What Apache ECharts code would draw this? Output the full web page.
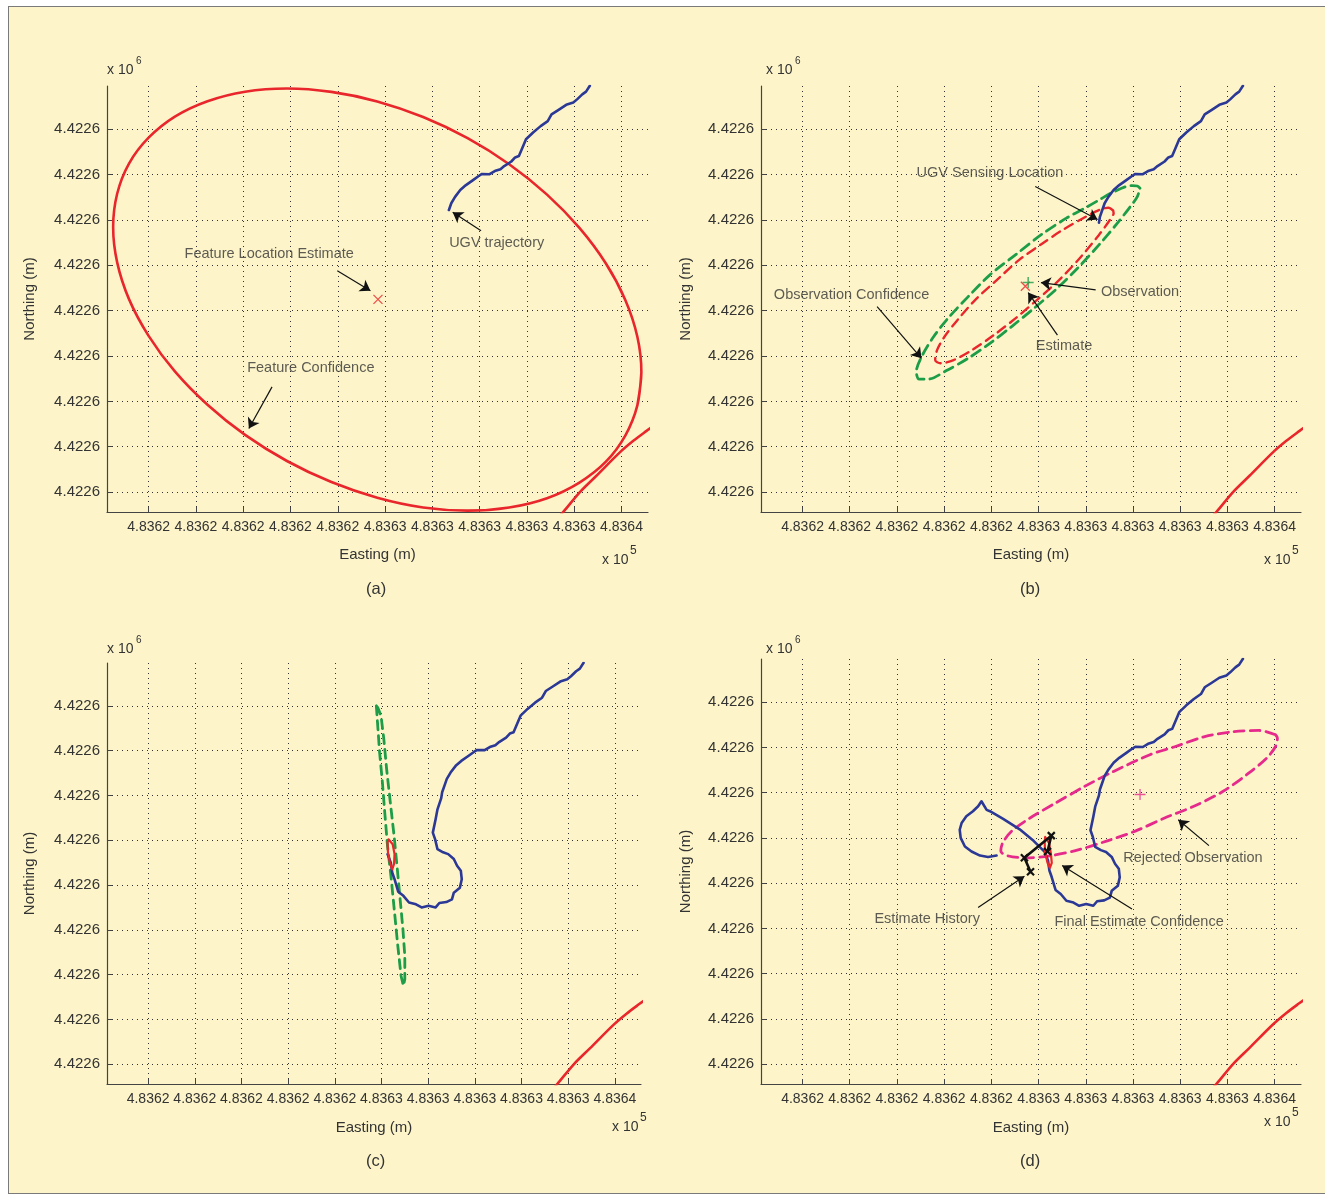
<!DOCTYPE html>
<html><head><meta charset="utf-8">
<script src="https://cdn.jsdelivr.net/npm/echarts@6/dist/echarts.min.js"></script>
<style>
html,body{margin:0;padding:0;background:#ffffff;}
#frame{position:absolute;left:8px;top:6px;width:1320px;height:1188px;background:#fdf5c9;border:1px solid #7a7a7a;box-sizing:border-box;}
#c{position:absolute;left:0;top:0;width:1325px;height:1198px;}
</style>
</head><body>
<div id="frame"></div>
<div id="c"></div>
<script>
// ---------- axes (metres; labels shown in MATLAB x10^5 / x10^6 style) ----------
const xTicks = [483616, 483618, 483620, 483622, 483624, 483626, 483628, 483630, 483632, 483634, 483636];
const yTicks = [4422590, 4422592, 4422594, 4422596, 4422598, 4422600, 4422602, 4422604, 4422606];
const xRange = [483614.24, 483637.12];
const yRange = [4422589.12, 4422607.91];

// ---------- UGV trajectory (Easting, Northing) ----------
const trajectory = [
 [483634.66,4422607.92],[483634.50,4422607.66],[483634.34,4422607.54],[483634.12,4422607.32],[483633.96,4422607.18],
 [483633.66,4422607.08],[483633.34,4422606.86],[483633.04,4422606.66],[483632.88,4422606.36],[483632.58,4422606.14],
 [483632.26,4422605.86],[483631.96,4422605.56],[483631.80,4422605.16],[483631.66,4422604.82],[483631.50,4422604.76],
 [483631.34,4422604.58],[483631.04,4422604.38],[483630.88,4422604.24],[483630.64,4422604.16],[483630.42,4422604.02],
 [483630.10,4422604.03],[483629.96,4422603.94],[483629.72,4422603.76],[483629.42,4422603.54],[483629.18,4422603.32],
 [483628.96,4422603.02],[483628.80,4422602.74],[483628.70,4422602.44],[483628.60,4422602.14],[483628.56,4422601.88],
 [483628.40,4422601.38],[483628.32,4422600.94],[483628.20,4422600.34],[483628.30,4422600.04],[483628.40,4422599.60],
 [483628.64,4422599.46],[483628.86,4422599.38],[483629.10,4422599.16],[483629.24,4422598.86],[483629.40,4422598.64],
 [483629.44,4422598.26],[483629.36,4422597.88],[483629.10,4422597.66],[483629.02,4422597.36],[483628.78,4422597.24],
 [483628.48,4422597.20],[483628.32,4422597.00],[483628.02,4422597.08],[483627.72,4422597.00],[483627.48,4422597.14],
 [483627.18,4422597.22],[483626.94,4422597.52],[483626.72,4422597.70],[483626.56,4422598.26],[483626.46,4422598.56],
 [483626.40,4422599.00],[483626.26,4422599.38],[483625.80,4422599.86],[483625.20,4422600.38],[483624.50,4422600.84],
 [483623.94,4422601.18],[483623.80,4422601.24],[483623.58,4422601.62],[483623.44,4422601.40],[483623.22,4422601.18],
 [483622.94,4422600.96],[483622.74,4422600.66],[483622.66,4422600.36],[483622.70,4422600.00],[483622.88,4422599.62],
 [483623.16,4422599.40],[483623.52,4422599.22],[483623.86,4422599.16],[483624.22,4422599.22]
];
const trajectoryShown = {a: 28, b: 30, c: 57, d: 74};

// ---------- panel (a) ----------
const featureConfidenceA = [
 [483636.84,4422595.28],[483636.67,4422593.82],[483636.16,4422592.49],[483635.34,4422591.34],[483634.22,4422590.42],
 [483632.85,4422589.73],[483631.25,4422589.32],[483629.49,4422589.18],[483627.61,4422589.32],[483625.67,4422589.75],
 [483623.73,4422590.44],[483621.85,4422591.37],[483620.08,4422592.52],[483618.49,4422593.85],[483617.11,4422595.32],
 [483616.00,4422596.89],[483615.17,4422598.51],[483614.67,4422600.13],[483614.50,4422601.69],[483614.67,4422603.16],
 [483615.17,4422604.49],[483616.00,4422605.63],[483617.11,4422606.56],[483618.49,4422607.24],[483620.08,4422607.66],
 [483621.85,4422607.80],[483623.73,4422607.65],[483625.67,4422607.23],[483627.61,4422606.54],[483629.49,4422605.61],
 [483631.25,4422604.46],[483632.85,4422603.12],[483634.22,4422601.65],[483635.34,4422600.08],[483636.16,4422598.47],
 [483636.67,4422596.85],[483636.84,4422595.28],[483636.67,4422593.82]
];
const otherFeatureArc = [
 [483633.40,4422588.96],[483633.60,4422589.20],[483634.24,4422590.00],[483634.94,4422590.72],[483635.94,4422591.76],
 [483636.50,4422592.26],[483637.06,4422592.70],[483637.30,4422592.88]
];
const featureEstimateA = [[483625.70,4422598.50]];
const annotationsA = [
 {text:'Feature Location Estimate', at:[483621.10,4422600.52], from:[483623.98,4422599.76], to:[483625.38,4422598.88]},
 {text:'UGV trajectory', at:[483630.72,4422600.98], from:[483630.06,4422601.52], to:[483628.86,4422602.34]},
 {text:'Feature Confidence', at:[483622.86,4422595.48], from:[483621.22,4422594.64], to:[483620.24,4422592.80]}
];

// ---------- panel (b) ----------
const observationConfidenceB = [
 [483630.30,4422603.40],[483630.18,4422603.50],[483629.96,4422603.52],[483629.18,4422603.24],[483628.56,4422602.88],
 [483627.96,4422602.52],[483627.18,4422602.08],[483626.10,4422601.34],[483625.02,4422600.46],[483623.94,4422599.58],
 [483623.02,4422598.62],[483622.16,4422597.66],[483621.56,4422596.86],[483621.08,4422596.04],[483620.82,4422595.30],
 [483620.94,4422594.98],[483621.32,4422594.98],[483622.10,4422595.36],[483623.02,4422595.90],[483623.94,4422596.56],
 [483624.86,4422597.30],[483625.80,4422598.10],[483626.72,4422598.92],[483627.64,4422599.86],[483628.56,4422600.90],
 [483629.34,4422601.86],[483629.88,4422602.58],[483630.18,4422603.02],[483630.30,4422603.40]
];
const estimateConfidenceB = [
 [483629.16,4422602.42],[483628.96,4422602.54],[483628.56,4422602.44],[483627.96,4422602.12],[483627.02,4422601.56],
 [483626.10,4422600.92],[483625.18,4422600.24],[483624.24,4422599.36],[483623.32,4422598.48],[483622.56,4422597.58],
 [483622.02,4422596.86],[483621.70,4422596.26],[483621.62,4422595.82],[483621.86,4422595.68],[483622.40,4422595.82],
 [483623.18,4422596.26],[483624.10,4422596.92],[483625.02,4422597.66],[483625.94,4422598.48],[483626.88,4422599.36],
 [483627.80,4422600.38],[483628.56,4422601.34],[483629.02,4422602.00],[483629.18,4422602.30],[483629.16,4422602.42]
];
const estimateB = [[483625.44,4422599.08]];
const observationB = [[483625.56,4422599.24]];
const annotationsB = [
 {text:'UGV Sensing Location', at:[483623.94,4422604.06], from:[483625.86,4422603.48], to:[483628.50,4422602.02]},
 {text:'Observation', at:[483630.30,4422598.84], from:[483628.42,4422598.92], to:[483626.10,4422599.24]},
 {text:'Estimate', at:[483627.08,4422596.42], from:[483626.80,4422596.92], to:[483625.56,4422598.80]},
 {text:'Observation Confidence', at:[483618.08,4422598.70], from:[483619.16,4422598.18], to:[483621.04,4422595.90]}
];

// ---------- panel (c) ----------
const observationConfidenceC = [
 [483625.78,4422606.00],[483625.84,4422605.10],[483625.92,4422603.92],[483626.04,4422602.58],[483626.14,4422601.24],
 [483626.26,4422599.74],[483626.42,4422598.26],[483626.56,4422596.78],[483626.70,4422595.28],[483626.84,4422593.94],
 [483626.94,4422593.50],[483627.00,4422593.80],[483627.00,4422594.84],[483626.92,4422596.02],[483626.80,4422597.36],
 [483626.68,4422598.70],[483626.54,4422600.20],[483626.38,4422601.68],[483626.22,4422603.18],[483626.10,4422604.52],
 [483625.98,4422605.56],[483625.84,4422605.92],[483625.78,4422606.00]
];
const estimateConfidenceC = [
 [483626.30,4422600.04],[483626.48,4422599.82],[483626.56,4422599.38],[483626.54,4422598.94],[483626.46,4422598.70],
 [483626.36,4422599.00],[483626.28,4422599.46],[483626.26,4422599.90],[483626.30,4422600.04]
];

// ---------- panel (d) ----------
const rejectedConfidenceD = [
 [483636.04,4422604.56],[483635.34,4422604.75],[483634.28,4422604.70],[483633.04,4422604.48],[483631.80,4422604.04],
 [483630.72,4422603.68],[483629.18,4422602.94],[483627.96,4422602.28],[483626.72,4422601.54],[483625.64,4422600.88],
 [483624.86,4422600.30],[483624.48,4422599.78],[483624.40,4422599.42],[483624.72,4422599.20],[483625.48,4422599.12],
 [483626.56,4422599.22],[483627.64,4422599.46],[483628.88,4422599.86],[483630.10,4422600.30],[483631.34,4422600.88],
 [483632.58,4422601.40],[483633.82,4422602.06],[483634.90,4422602.86],[483635.66,4422603.52],[483636.04,4422604.04],
 [483636.12,4422604.42],[483636.04,4422604.56]
];
const rejectedObservationD = [[483630.30,4422601.92]];
const finalConfidenceD = [
 [483626.28,4422600.04],[483626.44,4422599.78],[483626.52,4422599.34],[483626.56,4422598.90],[483626.48,4422598.68],
 [483626.38,4422598.90],[483626.28,4422599.34],[483626.26,4422599.78],[483626.28,4422600.04]
];
const estimateHistoryD = [
 [483625.66,4422598.50],[483625.40,4422599.12],[483626.54,4422600.10],[483626.38,4422599.40]
];
const annotationsD = [
 {text:'Estimate History', at:[483621.28,4422596.40], from:[483623.44,4422596.92], to:[483625.40,4422598.30]},
 {text:'Final Estimate Confidence', at:[483630.26,4422596.28], from:[483629.96,4422596.86], to:[483627.00,4422598.78]},
 {text:'Rejected Observation', at:[483632.54,4422599.12], from:[483633.22,4422599.66], to:[483631.92,4422600.80]}
];

// ---------- styling / layout ----------
const FONT = '"Liberation Sans", Arial, Helvetica, sans-serif';
const TXT = '#333333';
const C_BLUE = '#2b3896', C_RED = '#e8262c', C_GREEN = '#1e9d48', C_MAG = '#e62a8c';
const panels = [
 {id:'(a)', grid:{left:107, top:86, width:541, height:426}, xGap:35, yGap:70, tag:[377,591], m6:[107,71.5], m5:[602,560.7]},
 {id:'(b)', grid:{left:761, top:86, width:540, height:426}, xGap:35, yGap:68, tag:[1031,591], m6:[766,71.5], m5:[1264,560.7]},
 {id:'(c)', grid:{left:107, top:663, width:534, height:421}, xGap:36, yGap:70, tag:[377,1163], m6:[107,650], m5:[612,1128]},
 {id:'(d)', grid:{left:761, top:659, width:540, height:425}, xGap:36, yGap:68, tag:[1031,1163], m6:[766,650], m5:[1264,1123]}
];

const fmtX = v => (v/1e5).toFixed(4);
const fmtY = v => (v/1e6).toFixed(4);

function xAxisFor(i, p) {
  return {
    gridIndex:i, type:'value', min:xRange[0], max:xRange[1],
    name:'Easting (m)', nameLocation:'middle', nameGap:p.xGap,
    nameTextStyle:{fontFamily:FONT, fontSize:15, color:TXT},
    axisLine:{show:true, onZero:false, lineStyle:{color:'#444', width:1.2}},
    axisTick:{show:true, inside:true, length:5, customValues:xTicks, lineStyle:{color:'#444', width:1}},
    axisLabel:{customValues:xTicks, formatter:fmtX, fontFamily:FONT, fontSize:14, color:TXT, margin:8},
    splitLine:{show:true, lineStyle:{color:'#333', width:1, type:[1,4]}}
  };
}
function yAxisFor(i, p) {
  return {
    gridIndex:i, type:'value', min:yRange[0], max:yRange[1],
    name:'Northing (m)', nameLocation:'middle', nameGap:p.yGap, nameRotate:90,
    nameTextStyle:{fontFamily:FONT, fontSize:15, color:TXT},
    axisLine:{show:true, onZero:false, lineStyle:{color:'#444', width:1.2}},
    axisTick:{show:true, inside:true, length:5, customValues:yTicks, lineStyle:{color:'#444', width:1}},
    axisLabel:{customValues:yTicks, formatter:fmtY, fontFamily:FONT, fontSize:15, color:TXT, margin:7},
    splitLine:{show:true, lineStyle:{color:'#333', width:1, type:[1,4]}}
  };
}
function lineS(i, data, color, width, type, smooth, z) {
  return {type:'line', xAxisIndex:i, yAxisIndex:i, data:data, showSymbol:false, symbol:'none',
    smooth:smooth ? 0.3 : false, lineStyle:{color:color, width:width, type:type || 'solid', cap:'round', join:'round'},
    z:z || 3, silent:true, animation:false, clip:true};
}
const X_PATH = 'path://M0,0L10,10M10,0L0,10';
const PLUS_PATH = 'path://M5,0L5,10M0,5L10,5';
function markS(i, data, path, color, size, bw) {
  return {type:'scatter', xAxisIndex:i, yAxisIndex:i, data:data, symbol:path, symbolSize:size,
    itemStyle:{color:'rgba(0,0,0,0)', borderColor:color, borderWidth:bw}, z:6, silent:true, animation:false};
}
function annoS(i, annos) {
  return {type:'scatter', xAxisIndex:i, yAxisIndex:i, symbolSize:1, itemStyle:{color:'rgba(0,0,0,0)'},
    data: annos.map(a => ({name:a.text, value:a.at})),
    label:{show:true, position:'inside', formatter:'{b}', color:TXT, fontSize:14.5, fontFamily:FONT},
    markLine:{silent:true, animation:false, symbol:['none','arrow'], symbolSize:10, label:{show:false},
      itemStyle:{color:'#111'},
      lineStyle:{color:'#111', width:1.2, type:'solid'},
      data: annos.map(a => [{coord:a.from}, {coord:a.to}])},
    z:7, silent:true, animation:false};
}

const series = [];
// (a)
series.push(lineS(0, featureConfidenceA, C_RED, 2.6, 'solid', true));
series.push(lineS(0, otherFeatureArc, C_RED, 2.6, 'solid', true));
series.push(lineS(0, trajectory.slice(0, trajectoryShown.a), C_BLUE, 2.6, 'solid', false, 4));
series.push(markS(0, featureEstimateA, X_PATH, C_RED, 9, 1.3));
series.push(annoS(0, annotationsA));
// (b)
series.push(lineS(1, otherFeatureArc, C_RED, 2.6, 'solid', true));
series.push(lineS(1, trajectory.slice(0, trajectoryShown.b), C_BLUE, 2.6, 'solid', false, 4));
series.push(lineS(1, observationConfidenceB, C_GREEN, 2.8, [10,6], true));
series.push(lineS(1, estimateConfidenceB, C_RED, 2.4, [9,6], true));
series.push(markS(1, estimateB, X_PATH, C_RED, 9, 1.3));
series.push(markS(1, observationB, PLUS_PATH, C_GREEN, 11, 1.5));
series.push(annoS(1, annotationsB));
// (c)
series.push(lineS(2, otherFeatureArc, C_RED, 2.6, 'solid', true));
series.push(lineS(2, trajectory.slice(0, trajectoryShown.c), C_BLUE, 2.6, 'solid', false, 4));
series.push(lineS(2, observationConfidenceC, C_GREEN, 2.8, [9,6], false));
series.push(lineS(2, estimateConfidenceC, C_RED, 2.2, 'solid', false, 5));
// (d)
series.push(lineS(3, otherFeatureArc, C_RED, 2.6, 'solid', true));
series.push(lineS(3, trajectory.slice(0, trajectoryShown.d), C_BLUE, 2.6, 'solid', false, 4));
series.push(lineS(3, rejectedConfidenceD, C_MAG, 2.8, [10,6], true));
series.push(markS(3, rejectedObservationD, PLUS_PATH, C_MAG, 11, 1.3));
series.push(lineS(3, finalConfidenceD, C_RED, 2.2, 'solid', false, 5));
series.push(Object.assign(lineS(3, estimateHistoryD, '#111', 2.6, 'solid', false, 6), {
  showSymbol:true, symbol:X_PATH, symbolSize:7, itemStyle:{color:'rgba(0,0,0,0)', borderColor:'#111', borderWidth:2.2}}));
series.push(annoS(3, annotationsD));

const graphic = [];
panels.forEach(p => {
  graphic.push({type:'text', left:p.tag[0]-11, top:p.tag[1]-10, silent:true,
    style:{text:p.id, font:'16.5px ' + FONT, fill:TXT}});
  graphic.push({type:'text', left:p.m6[0], top:p.m6[1]-8, silent:true, style:{text:'x 10', font:'14px ' + FONT, fill:TXT}});
  graphic.push({type:'text', left:p.m6[0]+29, top:p.m6[1]-15, silent:true, style:{text:'6', font:'10px ' + FONT, fill:TXT}});
  graphic.push({type:'text', left:p.m5[0], top:p.m5[1]-8, silent:true, style:{text:'x 10', font:'14px ' + FONT, fill:TXT}});
  graphic.push({type:'text', left:p.m5[0]+28, top:p.m5[1]-16, silent:true, style:{text:'5', font:'12px ' + FONT, fill:TXT}});
});

const chart = echarts.init(document.getElementById('c'), null, {renderer:'canvas'});
chart.setOption({
  backgroundColor:'transparent',
  animation:false,
  grid: panels.map(p => Object.assign({containLabel:false}, p.grid)),
  xAxis: panels.map((p, i) => xAxisFor(i, p)),
  yAxis: panels.map((p, i) => yAxisFor(i, p)),
  series: series,
  graphic: graphic
});
</script>
</body></html>
